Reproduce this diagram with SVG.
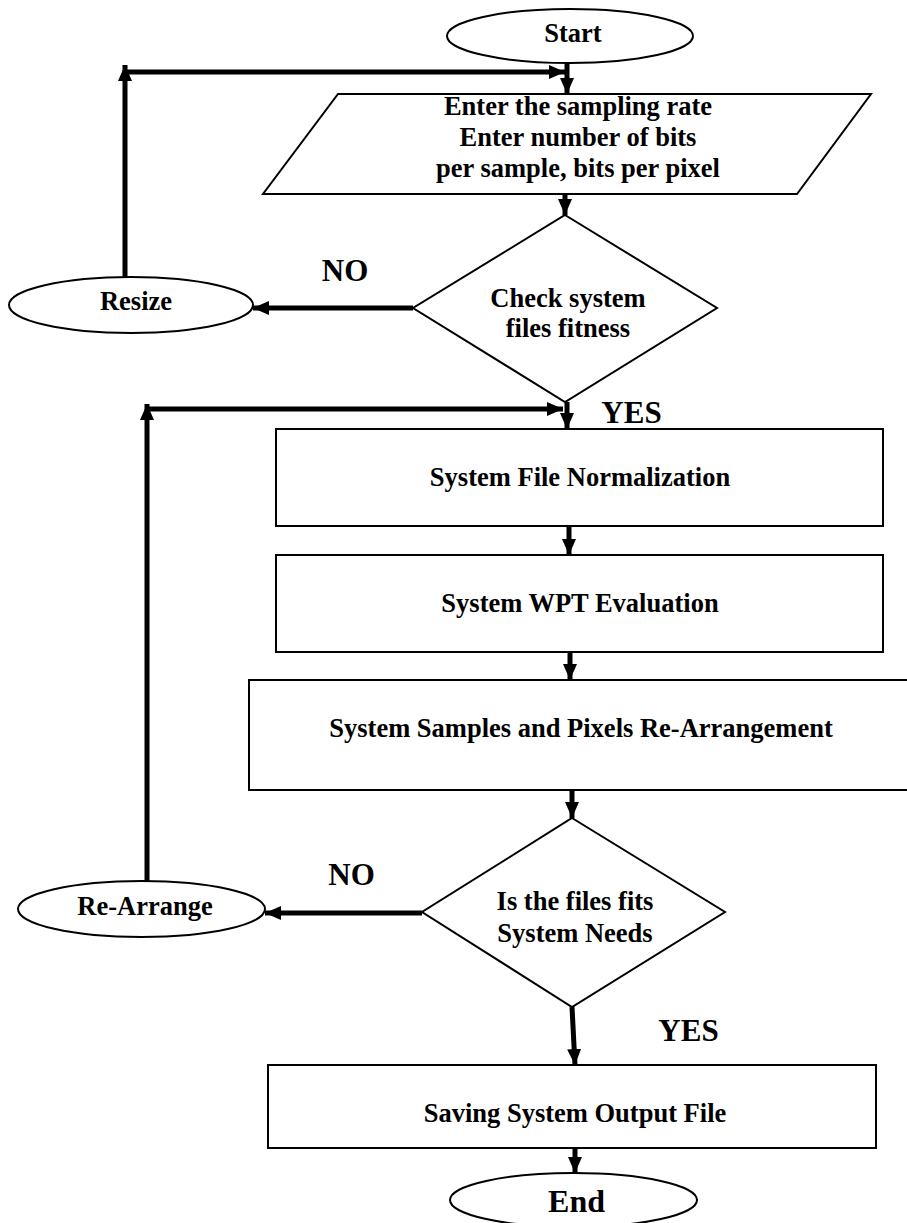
<svg xmlns="http://www.w3.org/2000/svg" width="907" height="1223" viewBox="0 0 907 1223">
<style>
.shape{fill:#fff;stroke:#000;stroke-width:2}
.conn{fill:none;stroke:#000;stroke-width:5}
text{font-family:"Liberation Serif","Times New Roman",serif;font-weight:bold;fill:#000;text-anchor:middle}
.t{font-size:26.5px}
.lbl{font-size:31px}
.big{font-size:32px}
</style>
<defs>
<marker id="ah" viewBox="0 0 16 14" refX="16" refY="7" markerWidth="16" markerHeight="14" markerUnits="userSpaceOnUse" orient="auto">
<path d="M0,0 L16,7 L0,14 z" fill="#000"/>
</marker>
</defs>
<rect width="907" height="1223" fill="#fff"/>

<g id="start">
<ellipse class="shape" cx="570" cy="36" rx="123" ry="27"/>
<text class="t" x="573" y="42">Start</text>
</g>
<g id="input">
<polygon class="shape" points="338,94 871,94 797,194 263,194"/>
<text class="t" x="578" y="114.5">Enter the sampling rate</text>
<text class="t" x="578" y="146">Enter number of bits</text>
<text class="t" x="578" y="177">per sample, bits per pixel</text>
</g>
<g id="check">
<polygon class="shape" points="565,215 717,308 565,402 413,308"/>
<text class="t" x="568" y="307">Check system</text>
<text class="t" x="568" y="337">files fitness</text>
</g>
<g id="resize">
<ellipse class="shape" cx="131" cy="305" rx="122" ry="28"/>
<text class="t" x="136" y="310">Resize</text>
</g>
<g id="normalization">
<rect class="shape" x="276" y="429" width="607" height="97"/>
<text class="t" x="580" y="486">System File Normalization</text>
</g>
<g id="wpt">
<rect class="shape" x="276" y="555" width="607" height="97"/>
<text class="t" x="580" y="612">System WPT Evaluation</text>
</g>
<g id="rearrangement">
<rect class="shape" x="249" y="680" width="665" height="110"/>
<text class="t" x="581" y="737">System Samples and Pixels Re-Arrangement</text>
</g>
<g id="fits">
<polygon class="shape" points="572,818 725,912 572,1007 422,912"/>
<text class="t" x="575" y="910">Is the files fits</text>
<text class="t" x="575" y="942">System Needs</text>
</g>
<g id="rearrange">
<ellipse class="shape" cx="141.5" cy="909" rx="123.5" ry="28"/>
<text class="t" x="145" y="915">Re-Arrange</text>
</g>
<g id="saving">
<rect class="shape" x="268" y="1065" width="608" height="83"/>
<text class="t" x="575" y="1122">Saving System Output File</text>
</g>
<g id="end">
<ellipse class="shape" cx="573.5" cy="1200" rx="123.5" ry="27"/>
<text class="big" x="576.5" y="1212">End</text>
</g>

<g id="connectors">
<line class="conn" x1="567" y1="63" x2="567" y2="94" marker-end="url(#ah)"/>
<line class="conn" x1="125" y1="277" x2="125" y2="65" marker-end="url(#ah)"/>
<line class="conn" x1="123" y1="72" x2="565" y2="72" marker-end="url(#ah)"/>
<line class="conn" x1="565" y1="194" x2="565" y2="215" marker-end="url(#ah)"/>
<line class="conn" x1="413" y1="308" x2="253" y2="308" marker-end="url(#ah)"/>
<line class="conn" x1="147" y1="881" x2="147" y2="404" marker-end="url(#ah)"/>
<line class="conn" x1="145" y1="409" x2="563" y2="409" marker-end="url(#ah)"/>
<line class="conn" x1="567" y1="402" x2="567" y2="429" marker-end="url(#ah)"/>
<line class="conn" x1="569" y1="526" x2="569" y2="555" marker-end="url(#ah)"/>
<line class="conn" x1="570" y1="652" x2="570" y2="680" marker-end="url(#ah)"/>
<line class="conn" x1="572" y1="790" x2="572" y2="818" marker-end="url(#ah)"/>
<line class="conn" x1="422" y1="913" x2="265" y2="913" marker-end="url(#ah)"/>
<line class="conn" x1="572" y1="1007" x2="575" y2="1065" marker-end="url(#ah)"/>
<line class="conn" x1="575" y1="1148" x2="575" y2="1173" marker-end="url(#ah)"/>
</g>

<g id="labels">
<text class="lbl" x="345" y="281">NO</text>
<text class="lbl" x="631.5" y="423">YES</text>
<text class="lbl" x="351.5" y="885">NO</text>
<text class="lbl" x="688.5" y="1041">YES</text>
</g>
</svg>
